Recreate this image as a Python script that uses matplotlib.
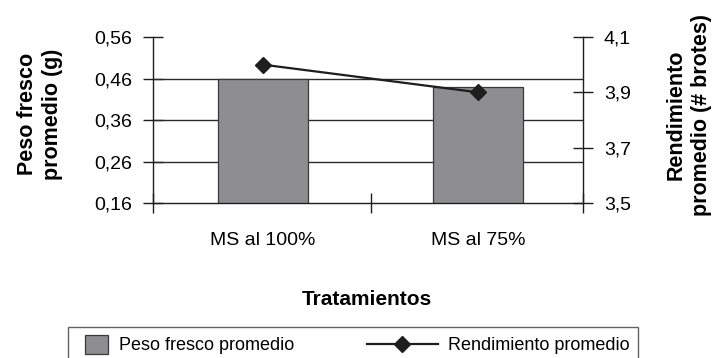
import matplotlib
matplotlib.use("Agg")
import matplotlib.pyplot as plt
from matplotlib.lines import Line2D
from matplotlib.patches import Rectangle
from matplotlib.legend_handler import HandlerBase

plt.rcParams['font.family'] = ['Liberation Sans', 'DejaVu Sans']

# data
tratamientos = ["MS al 100%", "MS al 75%"]
peso_fresco = [0.46, 0.44]
rendimiento = [4.0, 3.9]

left_ticks = [0.16, 0.26, 0.36, 0.46, 0.56]
left_labels = ["0,16", "0,26", "0,36", "0,46", "0,56"]
right_ticks = [3.5, 3.7, 3.9, 4.1]
right_labels = ["3,5", "3,7", "3,9", "4,1"]

dark = '#1e1e1e'
bar_grey = '#8e8e91'


class SquareRight(HandlerBase):
    # square patch sitting at the right end of the handle box
    def create_artists(self, legend, orig_handle, xdescent, ydescent,
                       width, height, fontsize, trans):
        side = 1.28 * fontsize
        p = orig_handle.patches[0]
        r = Rectangle((width - xdescent - side, -ydescent), side, height,
                      facecolor=p.get_facecolor(), edgecolor=p.get_edgecolor(),
                      linewidth=p.get_linewidth(), transform=trans)
        return [r]


class LongLine(HandlerBase):
    # line handle that is longer than the square handle of the bars
    def create_artists(self, legend, orig_handle, xdescent, ydescent,
                       width, height, fontsize, trans):
        y = height / 2 - ydescent
        x1 = width - xdescent
        x0 = x1 - 3.9 * fontsize
        ln = Line2D([x0, x1], [y, y], color=dark, lw=1.6, transform=trans)
        mk = Line2D([(x0 + x1) / 2], [y], marker='D', ms=8.5, color=dark,
                    ls='none', transform=trans)
        return [ln, mk]


fig = plt.figure(figsize=(7.21, 3.58), dpi=100)
ax = fig.add_axes([153 / 721, 1 - 203 / 358, 430 / 721, 166 / 358])

xs = list(range(len(tratamientos)))
bars = ax.bar(xs, peso_fresco, width=0.42, color=bar_grey, edgecolor='#3a3a3a',
              linewidth=0.9, zorder=2)

ax.set_ylim(left_ticks[0], left_ticks[-1])
ax.set_xlim(-0.512, 1.488)
ax.set_yticks(left_ticks)
ax.set_yticklabels(left_labels)
ax.set_axisbelow(True)
for v in left_ticks[1:-1]:
    ax.axhline(v, color='#2a2a2a', lw=1.0, zorder=1)

ax.set_xticks(xs)
ax.set_xticklabels(tratamientos)
ax.set_xticks([-0.512, 0.5, 1.488], minor=True)
ax.tick_params(axis='x', which='major', length=0, pad=21, labelsize=14)
ax.tick_params(axis='x', which='minor', direction='inout', length=14, width=1.0, color=dark)
ax.tick_params(axis='y', direction='inout', length=14, width=1.0, color=dark,
               pad=8, labelsize=14)

for s in ['left', 'bottom']:
    ax.spines[s].set_color(dark)
    ax.spines[s].set_linewidth(1.0)
ax.spines['top'].set_visible(False)
ax.spines['right'].set_visible(False)

ax2 = ax.twinx()
line, = ax2.plot(xs, rendimiento, color=dark, lw=1.6, marker='D', ms=8.5, zorder=3)
ax2.set_ylim(right_ticks[0], right_ticks[-1])
ax2.set_yticks(right_ticks)
ax2.set_yticklabels(right_labels)
ax2.tick_params(axis='y', direction='inout', length=14, width=1.0, color=dark,
                pad=8, labelsize=14)
ax2.spines['right'].set_color(dark)
ax2.spines['right'].set_linewidth(1.0)
for s in ['top', 'left', 'bottom']:
    ax2.spines[s].set_visible(False)

fig.text(40 / 721, 1 - 114 / 358, "Peso fresco\npromedio (g)", rotation=90,
         ha='center', va='center', fontsize=15.5, fontweight='bold', linespacing=1.3)
fig.text(689 / 721, 1 - 115 / 358, "Rendimiento\npromedio (# brotes)", rotation=90,
         ha='center', va='center', fontsize=15.5, fontweight='bold', linespacing=1.3)
fig.text(367 / 721, 1 - 305 / 358, "Tratamientos", ha='center', va='baseline',
         fontsize=15, fontweight='bold')

leg = fig.legend([bars, line], ["Peso fresco promedio", "Rendimiento promedio"],
                 loc='upper left', bbox_to_anchor=(68 / 721, 1 - 327 / 358),
                 ncol=2, frameon=True, fancybox=False, fontsize=13,
                 handlelength=1.78, handleheight=1.2, handletextpad=0.6,
                 columnspacing=6.15, borderpad=0.45, borderaxespad=0,
                 handler_map={type(bars): SquareRight(), Line2D: LongLine()})
leg.get_frame().set_edgecolor('#3a3a3a')
leg.get_frame().set_linewidth(1.0)

fig.savefig("out.png", dpi=100)
